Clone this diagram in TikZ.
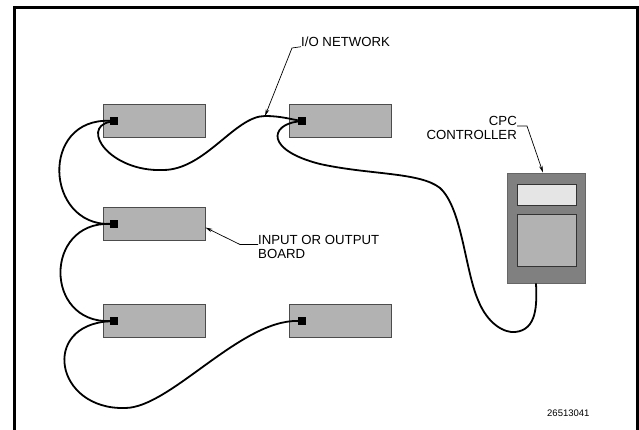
\documentclass[tikz,border=0pt]{standalone}
\usepackage{fontspec}
\setmainfont{Liberation Sans}
\usetikzlibrary{arrows.meta}

\begin{document}
\begin{tikzpicture}[x=1pt, y=-1pt,
        board/.style={draw=black!70, fill=black!30, line width=0.8pt, minimum width=102pt, minimum height=33pt, inner sep=0pt},
        jack/.style={fill=black, minimum size=8pt, inner sep=0pt},
        cable/.style={line width=1.8pt},
        leader/.style={line width=0.7pt, -{Stealth[length=7pt, width=3.5pt]}},
        label/.style={font=\fontsize{13.2}{14}\selectfont, inner sep=0pt}]
        \useasboundingbox (0,0) rectangle (639,430);
        \draw[line width=3pt] (14.5,432) -- (14.5,7.5) -- (637,7.5) -- (637,432);

        % boards
        \node[board] (B1) at (154,120.5) {};
        \node[board] (B2) at (340.5,120.5) {};
        \node[board] (B3) at (154,223.5) {};
        \node[board] (B4) at (154,321) {};
        \node[board] (B5) at (340.5,321) {};

        % jacks
        \node[jack] (J1) at (114,121) {};
        \node[jack] (J2) at (302,121) {};
        \node[jack] (J3) at (114,224) {};
        \node[jack] (J4) at (114,321) {};
        \node[jack] (J5) at (302,321) {};

        % controller
        \node[draw=black!60, fill=black!50, line width=0.8pt, minimum width=78pt, minimum height=110pt] (ctrl) at (546,228) {};
        \node[draw=black!80, fill=black!10, line width=0.8pt, minimum width=59pt, minimum height=21pt] (disp) at (546.5,194.5) {};
        \node[draw=black!80, fill=black!30, line width=0.8pt, minimum width=59pt, minimum height=52pt] (keys) at (546.5,240) {};

        % cables
        \draw[cable] (J1) .. controls (40,118) and (45,225) .. (J3);
        \draw[cable] (J3) .. controls (44,222) and (44,323) .. (J4);
        \draw[cable] (J1) .. controls (80,128) and (110,172) .. (163,170)
                .. controls (205,170) and (235,116) .. (265,116) coordinate (ionet)
                .. controls (280,116) and (290,119) .. (J2);
        \draw[cable] (J2) .. controls (270,125) and (265,150) .. (320,164)
                .. controls (370,175) and (420,172) .. (440,188)
                .. controls (462,208) and (465,270) .. (478,300)
                .. controls (488,325) and (505,333) .. (515,332)
                .. controls (537,330) and (537,305) .. ([xshift=-10pt]ctrl.south);
        \draw[cable] (J4) .. controls (40,325) and (55,410) .. (125,408)
                .. controls (170,408) and (240,320) .. (J5);

        % labels
        \node[label, anchor=west] (iolbl) at (301,42) {I/O NETWORK};
        \coordinate (iobend) at (292,48);
        \draw[leader] (iolbl.base west) -- (iobend) -- (ionet);

        \node[label, anchor=north east, align=right] (cpclbl) at (517,116) {CPC\\CONTROLLER};
        \coordinate (cpcbend) at (527,126);
        \draw[leader] (cpclbl.east |- cpcbend) -- (cpcbend) -- ([xshift=-3pt]ctrl.north);

        \node[label, anchor=north west, align=left] (inlbl) at (258,235) {INPUT OR OUTPUT\\BOARD};
        \coordinate (inbend) at (240,244.5);
        \draw[leader] (inlbl.west |- inbend) -- (inbend) -- ([yshift=-4pt]B3.east);

        \node[font=\fontsize{9.5}{10}\selectfont, inner sep=0pt, anchor=west] (fignum) at (547,413) {26513041};
\end{tikzpicture}
\end{document}
